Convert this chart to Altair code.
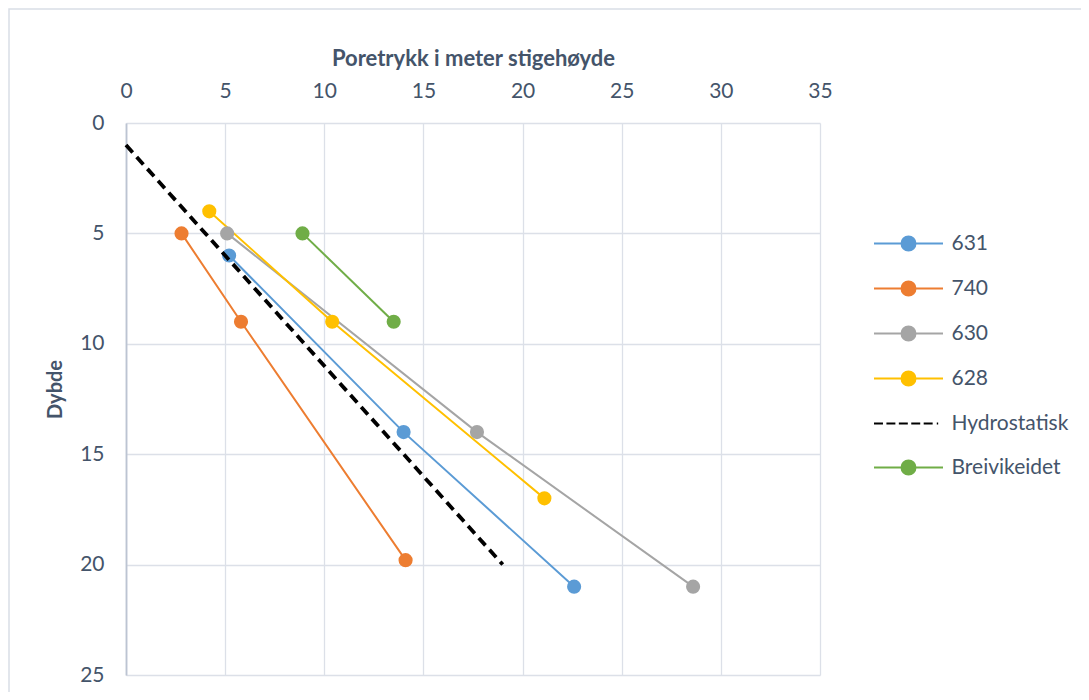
import altair as alt
import pandas as pd

# ---- data ----
series_order = ["631", "740", "630", "628", "Hydrostatisk", "Breivikeidet"]
series_colors = ["#5B9BD5", "#ED7D31", "#A5A5A5", "#FFC000", "#000000", "#70AD47"]

x_631 = [5.2, 14.0, 22.6]
y_631 = [6, 14, 21]
x_740 = [2.8, 5.8, 14.1]
y_740 = [5, 9, 19.8]
x_630 = [5.1, 17.7, 28.6]
y_630 = [5, 14, 21]
x_628 = [4.2, 10.4, 21.1]
y_628 = [4, 9, 17]
x_hydro = [0, 19]
y_hydro = [1, 20]
x_breiv = [8.9, 13.5]
y_breiv = [5, 9]

x_ticks = [0, 5, 10, 15, 20, 25, 30, 35]
y_ticks = [0, 5, 10, 15, 20, 25]

rows = []
for name, xs, ys in [("631", x_631, y_631), ("740", x_740, y_740), ("630", x_630, y_630),
                     ("628", x_628, y_628), ("Hydrostatisk", x_hydro, y_hydro),
                     ("Breivikeidet", x_breiv, y_breiv)]:
    for i, (a, b) in enumerate(zip(xs, ys)):
        rows.append({"serie": name, "x": a, "y": b, "i": i})
df = pd.DataFrame(rows)

TEXT = "#44546A"
FONT = "Lato"

# legend symbols (nominal box 16 px, drawn 69 px wide): line with a circle, or dashed line
S = 34.5 / 8.0
r = 7.0 / 8.0
circ = (f"M{-S},0L{-r},0M{r},0L{S},0"
        f"M{-r},0A{r},{r},0,1,0,{r},0A{r},{r},0,1,0,{-r},0Z")
segs = [(-1, -0.74), (-0.64, -0.38), (-0.28, -0.02), (0.08, 0.34), (0.44, 0.70), (0.82, 0.86)]
dash = "".join(f"M{a*S:.3f},0L{b*S:.3f},0" for a, b in segs)
shapes = [circ, circ, circ, circ, dash, circ]

xscale = alt.Scale(domain=[0, 35], nice=False)
yscale = alt.Scale(domain=[0, 25], reverse=True, nice=False)
xaxis = alt.Axis(orient="top", values=x_ticks, title="Poretrykk i meter stigehøyde",
                 domain=False, ticks=False, labelPadding=22, titlePadding=10,
                 labelFlush=False,
                 labelFontSize=21, titleFontSize=22, titleFontWeight="bold",
                 gridColor="#DCE0E8", gridWidth=1.3)
yaxis = alt.Axis(orient="left", values=y_ticks, title="Dybde",
                 domain=True, domainColor="#BCC4D2", domainWidth=1.8, ticks=False,
                 labelPadding=22, titlePadding=14, labelFlush=False, titleY=266,
                 labelFontSize=21, titleFontSize=20, titleFontWeight="bold",
                 gridColor="#DCE0E8", gridWidth=1.3)

X = alt.X("x:Q", scale=xscale, axis=xaxis)
Y = alt.Y("y:Q", scale=yscale, axis=yaxis)
color_scale = alt.Scale(domain=series_order, range=series_colors)

base = alt.Chart(df)

border = alt.Chart(pd.DataFrame({"a": [0]})).mark_rect(
    fillOpacity=0, stroke="#D9DEE6", strokeWidth=1.5, clip=False
).encode(x=alt.value(-117), x2=alt.value(1100), y=alt.value(-114), y2=alt.value(700))

lines = base.transform_filter(alt.datum.serie != "Hydrostatisk").mark_line(
    strokeWidth=2
).encode(x=X, y=Y, detail="serie:N", order="i:Q",
         color=alt.Color("serie:N", scale=color_scale, legend=None))

pts = base.transform_filter(alt.datum.serie != "Hydrostatisk").mark_circle(
    size=200, opacity=1
).encode(x=X, y=Y, color=alt.Color("serie:N", scale=color_scale, legend=None))

hydro = base.transform_filter(alt.datum.serie == "Hydrostatisk").mark_line(
    strokeWidth=3.8, strokeDash=[10, 6], color="black"
).encode(x=X, y=Y, order="i:Q")

legend = alt.Legend(title=None, orient="none", legendX=772, legendY=110,
                    symbolSize=256, symbolStrokeWidth=2, symbolOpacity=1,
                    labelFontSize=21, labelColor=TEXT, labelFont=FONT,
                    labelOffset=32.5, rowPadding=22, padding=0)

leg_layer = base.mark_point(opacity=0, filled=False).encode(
    x=X, y=Y,
    color=alt.Color("serie:N", scale=color_scale, legend=legend),
    fill=alt.Fill("serie:N", scale=alt.Scale(domain=series_order, range=series_colors), legend=legend),
    shape=alt.Shape("serie:N", scale=alt.Scale(domain=series_order, range=shapes), legend=legend),
)

chart = alt.layer(border, lines, pts, hydro, leg_layer).resolve_scale(
    color="shared"
).resolve_legend(
    color="independent", fill="independent", shape="independent"
).properties(
    width=694, height=552,
    background="white",
    autosize=alt.AutoSizeParams(type="none"),
    padding={"left": 118, "top": 115, "right": 261, "bottom": 17},
).configure_view(stroke=None).configure_axis(
    labelColor=TEXT, titleColor=TEXT, labelFont=FONT, titleFont=FONT
)

chart.save("out.html", embed_options={"renderer": "svg", "actions": False})
